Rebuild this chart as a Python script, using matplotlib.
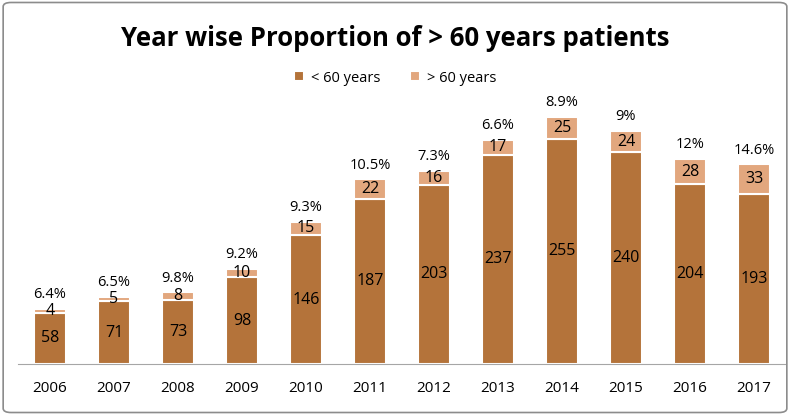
import matplotlib.pyplot as plt
from matplotlib.patches import FancyBboxPatch

years = ["2006", "2007", "2008", "2009", "2010", "2011",
         "2012", "2013", "2014", "2015", "2016", "2017"]
under_60 = [58, 71, 73, 98, 146, 187, 203, 237, 255, 240, 204, 193]
over_60 = [4, 5, 8, 10, 15, 22, 16, 17, 25, 24, 28, 33]
pct_labels = ["6.4%", "6.5%", "9.8%", "9.2%", "9.3%", "10.5%",
              "7.3%", "6.6%", "8.9%", "9%", "12%", "14.6%"]

dark = "#B4733A"
light = "#E2A77E"
font = ["Open Sans", "DejaVu Sans"]

fig = plt.figure(figsize=(7.9, 4.15), dpi=100)
ax = fig.add_axes([18 / 790, (415 - 364) / 415, (786 - 18) / 790, (364 - 85) / 415])

x = range(len(years))
b1 = ax.bar(x, under_60, width=0.5, color=dark, edgecolor="white", linewidth=1.5,
            label="< 60 years")
b2 = ax.bar(x, over_60, width=0.5, bottom=under_60, color=light, edgecolor="white",
            linewidth=1.5, label="> 60 years")

for i in x:
    ax.text(i, under_60[i] / 2, str(under_60[i]), ha="center", va="center",
            fontsize=11.5, family=font)
    ax.text(i, under_60[i] + over_60[i] / 2, str(over_60[i]), ha="center", va="center",
            fontsize=11.5, family=font)
    ax.annotate(pct_labels[i], (i, under_60[i] + over_60[i]), xytext=(0, 5),
                textcoords="offset points", ha="center", va="bottom",
                fontsize=10.5, family=font)

ax.set_xlim(-0.5, 11.5)
ax.set_ylim(0, 316)
ax.set_xticks(list(x))
ax.set_xticklabels(years, family=font, fontsize=11)
ax.tick_params(axis="x", length=0, pad=12)
ax.set_yticks([])
for s in ["top", "right", "left"]:
    ax.spines[s].set_visible(False)
ax.spines["bottom"].set_color("#A6A6A6")

fig.text(0.5, 1 - 38 / 415, "Year wise Proportion of > 60 years patients",
         ha="center", va="center", fontsize=18.5, fontweight="bold", family=font)
fig.legend(handles=[b1, b2], loc="center", bbox_to_anchor=(0.5, 1 - 78 / 415),
           ncol=2, frameon=False, prop={"family": font, "size": 10.5},
           handlelength=0.7, handleheight=0.7, columnspacing=2.0, handletextpad=0.5)

fig.patches.append(FancyBboxPatch((0.004, 0.006), 0.992, 0.988,
                                  boxstyle="round,pad=0,rounding_size=0.01",
                                  transform=fig.transFigure, fill=False,
                                  edgecolor="#8C8C8C", linewidth=1.2))

fig.savefig("out.png", dpi=100)
